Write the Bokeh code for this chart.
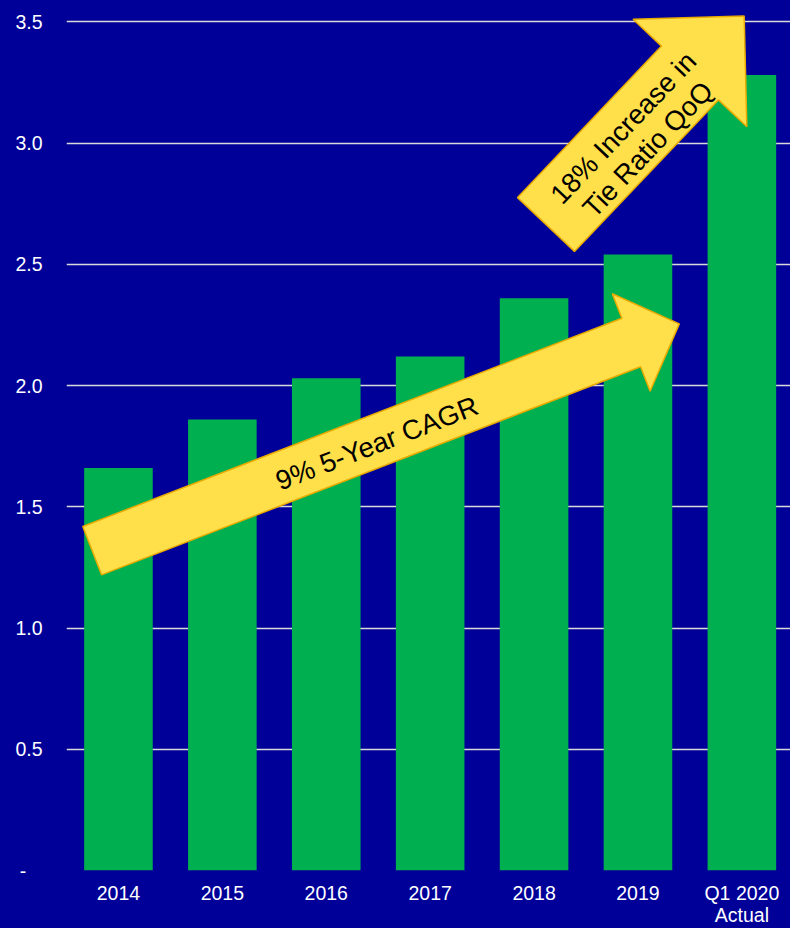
import math
from bokeh.plotting import figure
from bokeh.models import Range1d, FixedTicker, ColumnDataSource
from bokeh.core.properties import value
from bokeh.embed import file_html
from bokeh.resources import INLINE

# ---------------- data ----------------
categories = ["2014", "2015", "2016", "2017", "2018", "2019", "Q1 2020\nActual"]
tie_ratio = [1.66, 1.86, 2.03, 2.12, 2.36, 2.54, 3.28]
y_ticks = [0, 0.5, 1.0, 1.5, 2.0, 2.5, 3.0, 3.5]
y_tick_labels = ["-\u00a0\u00a0\u00a0", "0.5", "1.0", "1.5", "2.0", "2.5", "3.0", "3.5"]

# annotation arrows: (tail x, tail y, tip x, tip y) in data units
cagr_arrow = (-0.253, 1.319, 5.398, 2.254)
qoq_arrow = (4.115, 2.664, 6.022, 3.524)
cagr_text = "9% 5-Year CAGR"
qoq_text = ["18% Increase in", "Tie Ratio QoQ"]

# ---------------- layout ----------------
W, H = 790, 928
BL, BR, BT, BB = 66, 0, 14, 56
X0, X1 = -0.5, 6.468
Y0, Y1 = 0.0, 3.53
SX = (W - BL - BR) / (X1 - X0)
SY = (H - BT - BB) / (Y1 - Y0)

BG = "#000099"
GREEN = "#00B050"
FONT = "Liberation Sans"

p = figure(width=W, height=H, output_backend="svg", toolbar_location=None,
           x_range=Range1d(X0, X1), y_range=Range1d(Y0, Y1),
           min_border_left=BL, min_border_right=BR,
           min_border_top=BT, min_border_bottom=BB)
p.styles = {"background-color": BG}
p.background_fill_color = BG
p.border_fill_color = BG
p.outline_line_color = None

p.xgrid.grid_line_color = None
p.ygrid.grid_line_color = "#D9D9D9"
p.ygrid.grid_line_width = 1.5

xs = list(range(len(categories)))
p.xaxis.ticker = FixedTicker(ticks=xs)
p.xaxis.major_label_overrides = {i: c for i, c in zip(xs, categories)}
p.yaxis.ticker = FixedTicker(ticks=y_ticks)
p.yaxis.major_label_overrides = {t: l for t, l in zip(y_ticks, y_tick_labels)}

for ax in (p.xaxis, p.yaxis):
    ax.axis_line_color = None
    ax.major_tick_line_color = None
    ax.minor_tick_line_color = None
    ax.major_tick_out = 0
    ax.major_tick_in = 0
    ax.major_label_text_color = "white"
    ax.major_label_text_font = FONT
    ax.major_label_text_font_size = "19.5px"
p.xaxis.major_label_text_line_height = 1.0
p.xaxis.major_label_standoff = 11
p.yaxis.major_label_standoff = 24

src = ColumnDataSource(dict(x=xs, top=tie_ratio))
p.vbar(x="x", top="top", width=0.66, source=src, fill_color=GREEN, line_color=None)


def arrow(tail_tip, body_half, head_half, head_len):
    tx, ty, hx, hy = tail_tip
    ax_, ay_ = tx * SX, ty * SY
    bx_, by_ = hx * SX, hy * SY
    dx, dy = bx_ - ax_, by_ - ay_
    L = math.hypot(dx, dy)
    ux, uy = dx / L, dy / L
    nx, ny = -uy, ux
    basex, basey = bx_ - ux * head_len, by_ - uy * head_len
    pts = [
        (ax_ + nx * body_half, ay_ + ny * body_half),
        (basex + nx * body_half, basey + ny * body_half),
        (basex + nx * head_half, basey + ny * head_half),
        (bx_, by_),
        (basex - nx * head_half, basey - ny * head_half),
        (basex - nx * body_half, basey - ny * body_half),
        (ax_ - nx * body_half, ay_ - ny * body_half),
    ]
    return [q[0] / SX for q in pts], [q[1] / SY for q in pts], math.atan2(dy, dx)


cx, cy, cang = arrow(cagr_arrow, 26, 52.4, 51.6)
qx, qy, qang = arrow(qoq_arrow, 39.2, 78.4, 78.8)

for axs, ays in ((cx, cy), (qx, qy)):
    p.patch(axs, ays, fill_color="#FFDF4A", line_color="#E8AA00", line_width=1.5)

p.text(x=[2.486], y=[1.762], text=[cagr_text], angle=cang,
       text_font=value(FONT), text_font_size=value("27.5px"), text_color="black",
       text_align="center", text_baseline="middle")
p.text(x=[4.858, 5.094], y=[3.063, 2.974], text=qoq_text, angle=qang,
       text_font=value(FONT), text_font_size=value("27.5px"), text_color="black",
       text_align="center", text_baseline="middle")

open("out.html", "w").write(file_html(p, INLINE))
